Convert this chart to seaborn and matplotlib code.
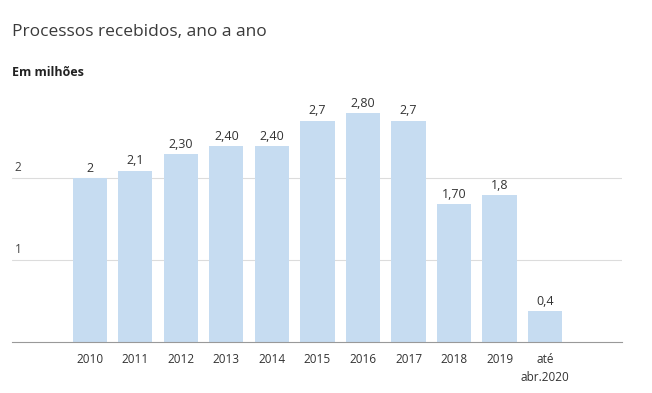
import matplotlib
matplotlib.use("Agg")
import matplotlib.pyplot as plt
import seaborn as sns
import pandas as pd

# dados (em milhões)
anos = ["2010", "2011", "2012", "2013", "2014", "2015", "2016", "2017", "2018", "2019", "até\nabr.2020"]
valores = [2.0, 2.09, 2.29, 2.39, 2.39, 2.70, 2.79, 2.70, 1.68, 1.79, 0.38]
rotulos = ["2", "2,1", "2,30", "2,40", "2,40", "2,7", "2,80", "2,7", "1,70", "1,8", "0,4"]
yticks = [1, 2]

sns.set_style("white")
plt.rcParams['font.family'] = ['Open Sans', 'DejaVu Sans']

df = pd.DataFrame({"ano": anos, "valor": valores})

fig = plt.figure(figsize=(6.52, 3.93), dpi=100)
ax = fig.add_axes([0.0184, 0.1298, 0.9356, 0.626])

sns.barplot(data=df, x="ano", y="valor", color="#c6dcf1", width=0.75, saturation=1,
            linewidth=0, ax=ax)

ax.set_xlim(-1.71, 11.69)
ax.set_ylim(0, 3.0)

for t in yticks:
    ax.axhline(t, color="#dcdcdc", lw=0.8, zorder=0)
    ax.text(0.004, t + 0.05, str(t), transform=ax.get_yaxis_transform(),
            fontsize=8.5, color="#444444", va="bottom", ha="left")

for i, (v, r) in enumerate(zip(valores, rotulos)):
    ax.text(i, v + 0.04, r, ha="center", va="bottom", fontsize=9, color="#333333")

ax.set_yticks([])
ax.set_xlabel("")
ax.set_ylabel("")
ax.tick_params(axis="x", length=0, labelsize=8.5, colors="#333333", pad=8)
for lbl in ax.get_xticklabels():
    lbl.set_linespacing(1.5)
for s in ["top", "left", "right"]:
    ax.spines[s].set_visible(False)
ax.spines["bottom"].set_color("#999999")
ax.spines["bottom"].set_linewidth(0.8)

fig.text(12 / 652, 1 - 32 / 393, "Processos recebidos, ano a ano", fontsize=12.5,
         color="#3a3a3a", va="center", ha="left")
fig.text(12 / 652, 1 - 73 / 393, "Em milhões", fontsize=9, fontweight="bold",
         color="#222222", va="center", ha="left")

fig.savefig("out.png", dpi=100)
